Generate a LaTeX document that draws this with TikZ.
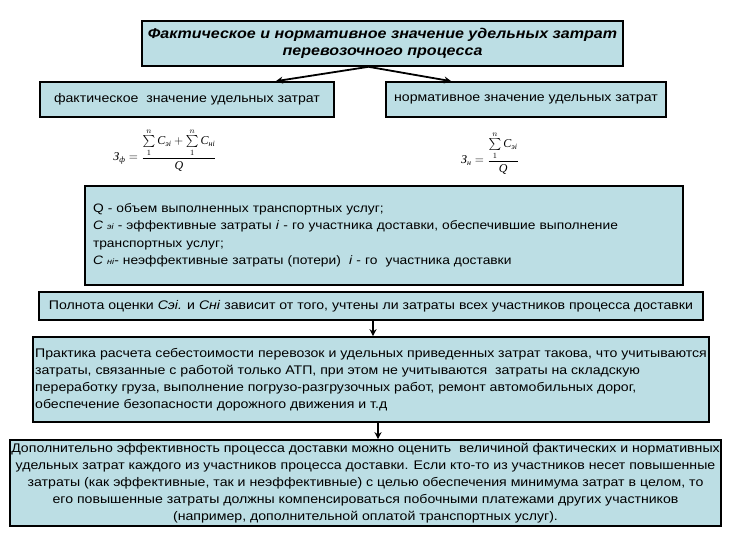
\documentclass[tikz,border=0pt]{standalone}
\usepackage{fontspec}
\usepackage{amsmath}
\setmainfont{Liberation Sans}[FakeStretch=1.13]
\newfontfamily\fserif{Liberation Serif}
\usetikzlibrary{arrows.meta}
\definecolor{boxfill}{RGB}{188,222,228}
\newcommand{\fsi}[1]{\text{\fserif\itshape #1}}
\begin{document}
\begin{tikzpicture}[x=1pt,y=-1pt,
  box/.style={draw=black, fill=boxfill, line width=1.6pt, inner sep=0pt,
    font=\fontsize{12.5}{17}\selectfont},
  arr/.style={line width=1.8pt, -{Stealth[length=7pt,width=7pt]}},
  frm/.style={inner sep=0pt, font=\fontsize{12}{14}\selectfont}]
\useasboundingbox (0,0) rectangle (737,540);
\fill[white] (0,0) rectangle (737,540);

\node[box, minimum width=481pt, minimum height=45pt, align=center,
  font=\fontsize{14.2}{17}\selectfont\bfseries\itshape] (title) at (382.5,43.5)
  {Фактическое и нормативное значение удельных затрат\\перевозочного процесса};

\node[box, minimum width=294pt, minimum height=35pt] (fact) at (187,99.5)
  {фактическое\ \ значение удельных затрат};
\node[box, minimum width=280pt, minimum height=35pt] (norm) at (526,99.5)
  {нормативное значение удельных затрат};

\draw[arr] ([xshift=-14pt]title.south) -- ([xshift=-59pt]fact.north east);
\draw[arr] ([xshift=-14pt]title.south) -- ([xshift=66pt]norm.north west);

\node[frm] (fl) at (165,150)
  {$\fsi{З}_{\fsi{ф}} = \dfrac{\sum\limits_{1}^{n} \fsi{C}_{\fsi{эi}} + \sum\limits_{1}^{n} \fsi{C}_{\fsi{нi}}}{\fsi{Q}}$};
\node[frm] (fn) at (490,153)
  {$\fsi{З}_{\fsi{н}} = \dfrac{\sum\limits_{1}^{n} \fsi{C}_{\fsi{эi}}}{\fsi{Q}}$};

\node[box, minimum width=598pt, minimum height=99pt, text width=582pt,
  inner xsep=8pt, align=left, font=\fontsize{12.2}{17.5}\selectfont] (qbox) at (384,235.5)
  {Q - объем выполненных транспортных услуг;\\
   \textit{C} {\fontsize{8}{8}\selectfont\textit{эi}} - эффективные затраты \textit{i} - го участника доставки, обеспечившие выполнение\\
   транспортных услуг;\\
   \textit{C} {\fontsize{8}{8}\selectfont\textit{нi}}- неэффективные затраты (потери)\ \ \textit{i} - го\ \ участника доставки};

\node[box, minimum width=664pt, minimum height=28pt] (poln) at (371,306)
  {Полнота оценки \textit{Сэi.} и \textit{Снi} зависит от того, учтены ли затраты всех участников процесса доставки};

\node[box, minimum width=676pt, minimum height=85pt, align=left] (prakt) at (371,379.5)
  {Практика расчета себестоимости перевозок и удельных приведенных затрат такова, что учитываются\\
   затраты, связанные с работой только АТП, при этом не учитываются\ \ затраты на складскую\\
   переработку груза, выполнение погрузо-разгрузочных работ, ремонт автомобильных дорог,\\
   обеспечение безопасности дорожного движения и т.д};

\node[box, minimum width=711pt, minimum height=86pt, align=center] (dop) at (365.5,483)
  {Дополнительно эффективность процесса доставки можно оценить\ \ величиной фактических и нормативных\\
   удельных затрат каждого из участников процесса доставки. Если кто-то из участников несет повышенные\\
   затраты (как эффективные, так и неэффективные) с целью обеспечения минимума затрат в целом, то\\
   его повышенные затраты должны компенсироваться побочными платежами других участников\\
   (например, дополнительной оплатой транспортных услуг).};

\draw[arr] ([xshift=2pt]poln.south) -- ([xshift=2pt]prakt.north);
\draw[arr] ([xshift=7pt]prakt.south) -- ([xshift=7pt]prakt.south |- dop.north);
\end{tikzpicture}
\end{document}
